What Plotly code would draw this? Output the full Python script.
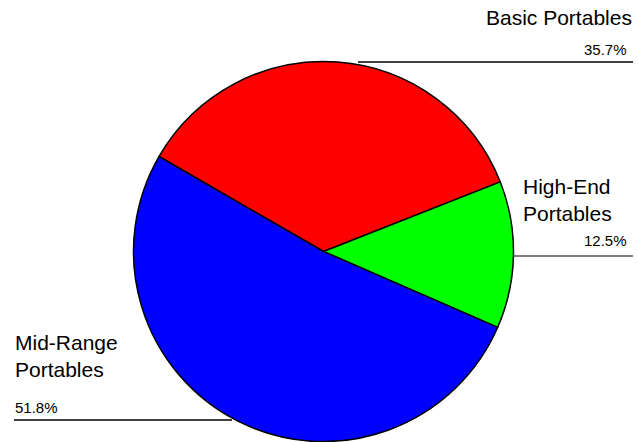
import plotly.graph_objects as go

W, H = 638, 442

categories = ["Basic Portables", "High-End Portables", "Mid-Range Portables"]
values = [35.7, 12.5, 51.8]
colors = ["#FF0000", "#00FF00", "#0000FF"]
label_texts = ["Basic Portables", "High-End<br>Portables", "Mid-Range<br>Portables"]
pct_texts = ["35.7%", "12.5%", "51.8%"]

cx, cy, r = 323.5, 251.5, 190

fig = go.Figure(go.Pie(
    labels=categories,
    values=values,
    marker=dict(colors=colors, line=dict(color="black", width=1.5)),
    sort=False,
    direction="clockwise",
    rotation=-60.0,
    textinfo="none",
    hoverinfo="label+percent",
    showlegend=False,
    domain=dict(x=[(cx - r) / W, (cx + r) / W], y=[1 - (cy + r) / H, 1 - (cy - r) / H]),
))

def px(x):
    return x / W

def py(y):
    return 1 - y / H

font_name = dict(family="Liberation Sans, Arial, sans-serif", size=21, color="black")
font_pct = dict(family="Liberation Sans, Arial, sans-serif", size=15, color="black")

ann = []
# Basic Portables (right aligned)
ann.append(dict(x=px(634), y=py(18), text=label_texts[0], xanchor="right", yanchor="middle", align="right", font=font_name))
ann.append(dict(x=px(629), y=py(49), text=pct_texts[0], xanchor="right", yanchor="middle", align="right", font=font_pct))
# High-End Portables
ann.append(dict(x=px(521), y=py(200), text=label_texts[1], xanchor="left", yanchor="middle", align="left", font=font_name))
ann.append(dict(x=px(629), y=py(241), text=pct_texts[1], xanchor="right", yanchor="middle", align="right", font=font_pct))
# Mid-Range Portables
ann.append(dict(x=px(13), y=py(356), text=label_texts[2], xanchor="left", yanchor="middle", align="left", font=font_name))
ann.append(dict(x=px(13), y=py(407), text=pct_texts[2], xanchor="left", yanchor="middle", align="left", font=font_pct))
for a in ann:
    a.update(xref="paper", yref="paper", showarrow=False)

line_style = dict(color="black", width=1.3)
shapes = [
    dict(type="line", xref="paper", yref="paper", x0=px(358), x1=px(633), y0=py(62), y1=py(62), line=line_style),
    dict(type="line", xref="paper", yref="paper", x0=px(513), x1=px(633), y0=py(256), y1=py(256), line=dict(color="#555555", width=1.3)),
    dict(type="line", xref="paper", yref="paper", x0=px(14), x1=px(232), y0=py(420), y1=py(420), line=line_style),
]

fig.update_layout(
    width=W, height=H,
    margin=dict(l=0, r=0, t=0, b=0),
    paper_bgcolor="white", plot_bgcolor="white",
    annotations=ann, shapes=shapes,
)

fig.write_html(
    "out.html",
    config={"displayModeBar": False},
    post_script="document.body.style.margin='0';document.body.style.overflow='hidden';",
)
